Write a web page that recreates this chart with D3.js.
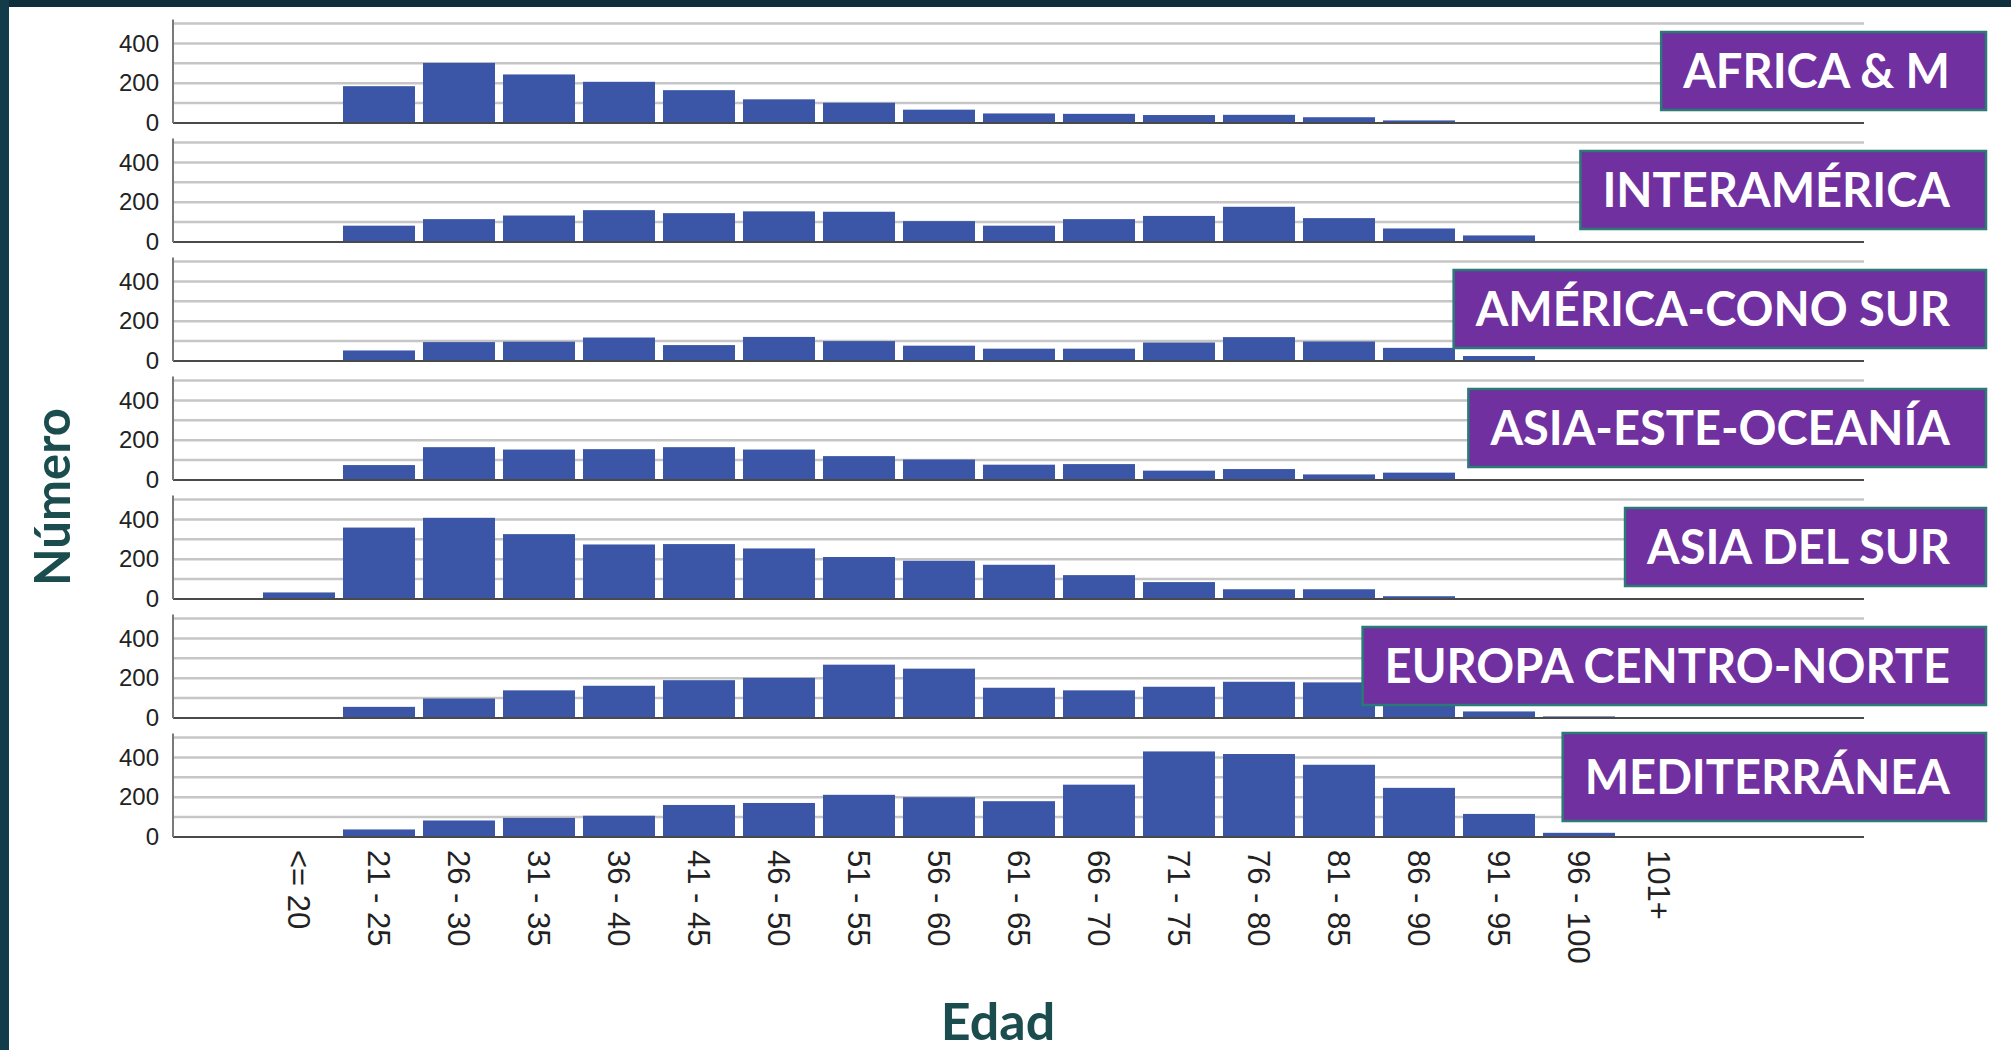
<!DOCTYPE html>
<html lang="es">
<head>
<meta charset="utf-8" />
<title>Edad por región</title>
<script src="https://cdn.jsdelivr.net/npm/d3@7"></script>
<style>
  html, body { margin: 0; padding: 0; background: #fff; }
  svg text { font-family: "Liberation Sans", Arial, sans-serif; }
  .tick-y { font-size: 24px; fill: #222; }
  .tick-x { font-size: 31px; fill: #222; }
  .title { font-family: Lato, "Noto Sans", sans-serif; font-weight: 700; fill: #1b4c4e; }
  .tag text { font-family: Lato, "Noto Sans", sans-serif; font-weight: 700; fill: #fff; font-size: 47px; }
</style>
</head>
<body>
<script>
// age groups on the x axis
var ageGroups = ["<= 20", "21 - 25", "26 - 30", "31 - 35", "36 - 40", "41 - 45", "46 - 50",
                 "51 - 55", "56 - 60", "61 - 65", "66 - 70", "71 - 75", "76 - 80", "81 - 85",
                 "86 - 90", "91 - 95", "96 - 100", "101+"];

var regions = ["AFRICA & M", "INTERAMÉRICA", "AMÉRICA-CONO SUR", "ASIA-ESTE-OCEANÍA",
               "ASIA DEL SUR", "EUROPA CENTRO-NORTE", "MEDITERRÁNEA"];

// counts per age group, one array per region
var africa       = [0, 185, 302, 244, 207, 165, 119, 102, 67, 48, 46, 40, 41, 29, 13, 2, 0, 0];
var interamerica = [2, 82, 115, 133, 160, 145, 154, 152, 105, 82, 115, 131, 177, 120, 68, 33, 3, 0];
var conoSur      = [0, 53, 95, 97, 118, 80, 121, 100, 77, 62, 62, 93, 120, 98, 66, 25, 0, 0];
var asiaEste     = [0, 75, 165, 153, 155, 165, 153, 120, 103, 77, 80, 47, 55, 28, 37, 0, 0, 0];
var asiaSur      = [33, 359, 408, 326, 274, 276, 254, 211, 192, 172, 120, 85, 49, 49, 14, 5, 0, 0];
var europa       = [0, 56, 98, 139, 162, 190, 202, 268, 248, 152, 139, 157, 182, 179, 125, 33, 8, 0];
var mediterranea = [0, 38, 83, 96, 107, 161, 171, 212, 200, 180, 263, 430, 417, 363, 247, 116, 21, 0];

var series = [africa, interamerica, conoSur, asiaEste, asiaSur, europa, mediterranea];

var yTicks = [0, 200, 400];
var gridValues = [100, 200, 300, 400, 500];

var width = 2011, height = 1050;
var axisLeft = 173, axisRight = 1864;
var panelHeight = 99.5;   // height of 0..500 in px

var svg = d3.select("body").append("svg")
    .attr("width", width)
    .attr("height", height);

// dark frame on top and left
svg.append("rect").attr("x", 0).attr("y", 0).attr("width", width).attr("height", 7).attr("fill", "#0f2f3d");
svg.append("rect").attr("x", 0).attr("y", 0).attr("width", 9).attr("height", height).attr("fill", "#123c4a");

var x = d3.scaleBand()
    .domain(ageGroups)
    .range([259, 1699])
    .paddingInner(0.1)
    .paddingOuter(0.05);

// baseline of each panel
var panelY = d3.scalePoint()
    .domain(regions)
    .range([123, 837]);

regions.forEach(function(region, r) {
    var base = panelY(region);
    var y = d3.scaleLinear().domain([0, 500]).range([base, base - panelHeight]);

    var g = svg.append("g");

    g.selectAll("line.grid")
        .data(gridValues)
        .enter().append("line")
        .attr("x1", axisLeft).attr("x2", axisRight)
        .attr("y1", function(d) { return y(d); })
        .attr("y2", function(d) { return y(d); })
        .attr("stroke", "#c6c6c6")
        .attr("stroke-width", 2.5);

    g.selectAll("rect.bar")
        .data(series[r])
        .enter().append("rect")
        .attr("x", function(d, i) { return x(ageGroups[i]); })
        .attr("width", x.bandwidth())
        .attr("y", function(d) { return y(d); })
        .attr("height", function(d) { return base - y(d); })
        .attr("fill", "#3b56a6");

    // zero line
    g.append("line")
        .attr("x1", axisLeft).attr("x2", axisRight)
        .attr("y1", base).attr("y2", base)
        .attr("stroke", "#4a4a4a")
        .attr("stroke-width", 2);

    // y axis
    var yAxis = d3.axisLeft(y).tickValues(yTicks).tickSize(0).tickPadding(14);
    var ag = g.append("g")
        .attr("transform", "translate(" + axisLeft + ",0)")
        .call(yAxis);
    ag.select(".domain").remove();
    ag.selectAll("text").attr("class", "tick-y").attr("font-family", null).attr("font-size", null);

    g.append("line")
        .attr("x1", axisLeft).attr("x2", axisLeft)
        .attr("y1", base).attr("y2", y(520))
        .attr("stroke", "#7a7a7a")
        .attr("stroke-width", 2);
});

// x axis labels, rotated
var lastBase = panelY(regions[regions.length - 1]);
var xAxis = d3.axisBottom(x).tickSize(0).tickPadding(0);
var xg = svg.append("g")
    .attr("transform", "translate(0," + lastBase + ")")
    .call(xAxis);
xg.select(".domain").remove();
xg.selectAll("text")
    .attr("class", "tick-x")
    .attr("font-family", null).attr("font-size", null)
    .attr("transform", "rotate(90)")
    .attr("x", 13).attr("y", 0).attr("dy", "0.35em")
    .style("text-anchor", "start");

// region tags
var tagRight = 1986, tagH = 78;
regions.forEach(function(region, r) {
    var last = r === regions.length - 1;
    var h = last ? 88 : tagH;
    var cy = panelY(region) - (last ? 60 : 52);
    var tg = svg.append("g").attr("class", "tag");
    var rect = tg.append("rect");
    var t = tg.append("text").text(region).attr("y", cy).attr("dy", "0.36em");
    var w = t.node().getComputedTextLength();
    var left = tagRight - w - 58;
    t.attr("x", left + 22);
    rect.attr("x", left).attr("y", cy - h / 2)
        .attr("width", w + 58).attr("height", h)
        .attr("fill", "#7030a0")
        .attr("stroke", "#2b7a78").attr("stroke-width", 2.5);
});

// axis titles
svg.append("text")
    .attr("class", "title")
    .attr("transform", "translate(70,497) rotate(-90)")
    .attr("text-anchor", "middle")
    .attr("font-size", 49)
    .text("Número");

svg.append("text")
    .attr("class", "title")
    .attr("x", 998).attr("y", 1040)
    .attr("text-anchor", "middle")
    .attr("font-size", 52)
    .text("Edad");
</script>
</body>
</html>
